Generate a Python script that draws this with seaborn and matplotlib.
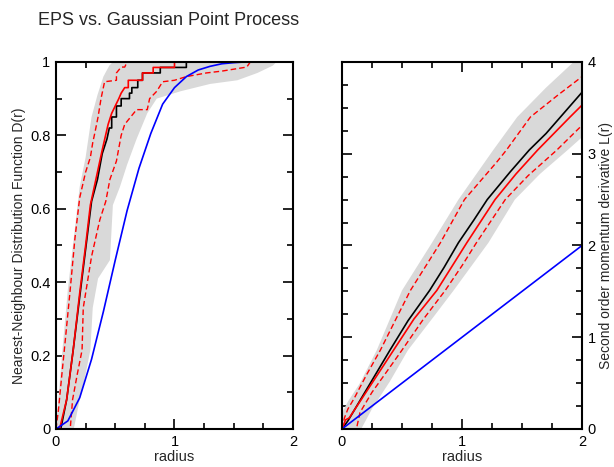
import numpy as np
import matplotlib
matplotlib.use("Agg")
import matplotlib.pyplot as plt
import seaborn as sns
from matplotlib.ticker import MultipleLocator

# ---- left panel: nearest-neighbour distribution D(r) ----
nn_r_gauss = [0, 0.1, 0.2, 0.3, 0.4, 0.5, 0.6, 0.7, 0.8, 0.9, 1.0, 1.1, 1.2, 1.3, 1.4, 1.5, 1.6, 2.0]
nn_d_gauss = [0, 0.022, 0.085, 0.19, 0.32, 0.46, 0.595, 0.71, 0.805, 0.885, 0.93, 0.96, 0.978, 0.988, 0.995, 0.998, 1.0, 1.0]

nn_r_obs = [0, 0.04, 0.09, 0.145, 0.2, 0.25, 0.3, 0.35, 0.39, 0.43, 0.45, 0.47, 0.47, 0.51, 0.51, 0.55,
            0.55, 0.6, 0.62, 0.62, 0.64, 0.64, 0.69, 0.69, 0.73, 0.73, 0.88, 0.88, 1.1, 1.1, 2.0]
nn_d_obs = [0, 0, 0.08, 0.215, 0.36, 0.49, 0.62, 0.68, 0.75, 0.79, 0.82, 0.82, 0.85, 0.85, 0.88, 0.88,
            0.9, 0.9, 0.9, 0.915, 0.915, 0.93, 0.93, 0.95, 0.95, 0.97, 0.97, 0.985, 0.985, 1.0, 1.0]

nn_r_mean = [0, 0.03, 0.09, 0.145, 0.2, 0.25, 0.29, 0.35, 0.39, 0.44, 0.47, 0.5, 0.53, 0.55, 0.58,
             0.61, 0.61, 0.73, 0.73, 0.82, 0.82, 1.0, 1.0, 2.0]
nn_d_mean = [0, 0, 0.08, 0.215, 0.37, 0.5, 0.61, 0.7, 0.76, 0.83, 0.86, 0.88, 0.9, 0.915, 0.93,
             0.93, 0.95, 0.95, 0.97, 0.97, 0.985, 0.985, 1.0, 1.0]

nn_r_hi = [0, 0.02, 0.05, 0.076, 0.12, 0.16, 0.2, 0.25, 0.29, 0.31, 0.33, 0.355, 0.38, 0.41,
           0.51, 0.51, 0.55, 0.58, 0.6, 2.0]
nn_d_hi = [0, 0.05, 0.15, 0.234, 0.38, 0.52, 0.63, 0.7, 0.74, 0.78, 0.81, 0.85, 0.9, 0.946,
           0.95, 0.97, 0.986, 0.986, 1.0, 1.0]

nn_r_lo = [0, 0.12, 0.14, 0.18, 0.22, 0.23, 0.27, 0.3, 0.37, 0.42, 0.455, 0.51, 0.55, 0.58,
           0.68, 0.77, 0.79, 0.85, 0.9, 1.0, 1.1, 1.27, 1.4, 1.61, 1.64, 2.0]
nn_d_lo = [0, 0, 0.08, 0.15, 0.215, 0.33, 0.41, 0.47, 0.57, 0.62, 0.68, 0.73, 0.8, 0.83,
           0.87, 0.87, 0.9, 0.92, 0.946, 0.95, 0.96, 0.97, 0.975, 0.986, 1.0, 1.0]

nn_r_band_hi = [0, 0.02, 0.05, 0.1, 0.15, 0.2, 0.25, 0.3, 0.35, 0.4, 0.45, 0.48, 2.0]
nn_d_band_hi = [0, 0.08, 0.2, 0.38, 0.52, 0.66, 0.74, 0.85, 0.91, 0.96, 0.99, 1.0, 1.0]
nn_r_band_lo = [0, 0.15, 0.2, 0.25, 0.29, 0.31, 0.355, 0.455, 0.48, 0.54, 0.6, 0.68, 0.77,
                0.85, 1.05, 1.3, 1.53, 1.7, 1.83, 1.86, 2.0]
nn_d_band_lo = [0, 0, 0.08, 0.15, 0.215, 0.33, 0.41, 0.46, 0.61, 0.66, 0.72, 0.79, 0.86,
                0.9, 0.92, 0.94, 0.95, 0.97, 0.99, 1.0, 1.0]

# ---- right panel: L(r) ----
l_r_gauss = [0, 2.0]
l_v_gauss = [0, 2.0]

l_r_obs = [0, 0.05, 0.1, 0.2, 0.3, 0.4, 0.55, 0.73, 0.85, 0.97, 1.1, 1.21, 1.4, 1.56, 1.7, 1.82, 2.0]
l_v_obs = [0, 0.09, 0.2, 0.42, 0.64, 0.86, 1.18, 1.51, 1.76, 2.03, 2.28, 2.5, 2.8, 3.04, 3.22, 3.4, 3.67]

l_r_mean = [0, 0.03, 0.06, 0.1, 0.2, 0.3, 0.43, 0.6, 0.79, 0.92, 1.04, 1.16, 1.275, 1.45, 1.63, 1.78, 1.9, 2.0]
l_v_mean = [0, 0.1, 0.12, 0.2, 0.4, 0.6, 0.86, 1.2, 1.51, 1.78, 2.03, 2.27, 2.5, 2.78, 3.04, 3.24, 3.4, 3.53]

l_r_hi = [0, 0.02, 0.05, 0.1, 0.2, 0.32, 0.45, 0.57, 0.7, 0.82, 1.02, 1.29, 1.37, 1.57, 1.8, 2.0]
l_v_hi = [0, 0.12, 0.22, 0.33, 0.58, 0.86, 1.2, 1.51, 1.78, 2.03, 2.5, 2.91, 3.04, 3.4, 3.64, 3.84]

l_r_lo = [0, 0.12, 0.15, 0.25, 0.37, 0.5, 0.68, 0.86, 1.0, 1.12, 1.36, 1.55, 1.79, 2.0]
l_v_lo = [0, 0, 0.18, 0.4, 0.62, 0.86, 1.2, 1.51, 1.78, 2.03, 2.5, 2.76, 3.04, 3.31]

l_r_band_hi = [0, 0.01, 0.05, 0.15, 0.29, 0.5, 0.75, 0.97, 1.26, 1.46, 1.7, 1.93, 2.0]
l_v_band_hi = [0, 0.2, 0.3, 0.5, 0.86, 1.51, 2.03, 2.5, 3.04, 3.4, 3.72, 4.0, 4.0]
l_r_band_lo = [0, 0.16, 0.25, 0.4, 0.55, 0.75, 0.93, 1.22, 1.44, 1.65, 1.88, 2.0]
l_v_band_lo = [0, 0, 0.22, 0.52, 0.86, 1.2, 1.51, 2.03, 2.5, 2.78, 3.04, 3.18]

sns.set_theme(style="ticks")
plt.rcParams['font.family'] = ['Liberation Sans', 'DejaVu Sans']

fig = plt.figure(figsize=(6.14, 4.67), dpi=100)
ax1 = fig.add_axes([0.0912, 0.0814, 0.386, 0.786])
ax2 = fig.add_axes([0.557, 0.0814, 0.391, 0.786])

band_col = "#d9d9d9"
dash = (0, (4, 2.2))


def draw_panel(ax, band_r_hi, band_v_hi, band_r_lo, band_v_lo, r_hi, v_hi, r_lo, v_lo,
               r_mean, v_mean, r_obs, v_obs, r_g, v_g):
    ax.fill(list(band_r_hi) + list(band_r_lo[::-1]), list(band_v_hi) + list(band_v_lo[::-1]),
            color=band_col, lw=0, zorder=1)
    sns.lineplot(x=r_hi, y=v_hi, sort=False, estimator=None, ax=ax, color="red", lw=1.0, linestyle=dash)
    sns.lineplot(x=r_lo, y=v_lo, sort=False, estimator=None, ax=ax, color="red", lw=1.0, linestyle=dash)
    sns.lineplot(x=r_obs, y=v_obs, sort=False, estimator=None, ax=ax, color="black", lw=1.2)
    sns.lineplot(x=r_mean, y=v_mean, sort=False, estimator=None, ax=ax, color="red", lw=1.2)
    sns.lineplot(x=r_g, y=v_g, sort=False, estimator=None, ax=ax, color="blue", lw=1.2)


draw_panel(ax1, nn_r_band_hi, nn_d_band_hi, nn_r_band_lo, nn_d_band_lo, nn_r_hi, nn_d_hi,
           nn_r_lo, nn_d_lo, nn_r_mean, nn_d_mean, nn_r_obs, nn_d_obs, nn_r_gauss, nn_d_gauss)
draw_panel(ax2, l_r_band_hi, l_v_band_hi, l_r_band_lo, l_v_band_lo, l_r_hi, l_v_hi,
           l_r_lo, l_v_lo, l_r_mean, l_v_mean, l_r_obs, l_v_obs, l_r_gauss, l_v_gauss)

for ax in (ax1, ax2):
    ax.set_xlim(0, 2)
    ax.xaxis.set_major_locator(MultipleLocator(1))
    ax.xaxis.set_minor_locator(MultipleLocator(0.25))
    ax.tick_params(which="both", direction="in", top=True, right=True, left=True, bottom=True,
                   width=1.2, labelsize=10.5, pad=4, colors="black")
    ax.tick_params(which="major", length=7)
    ax.tick_params(which="minor", length=4)
    for s in ax.spines.values():
        s.set_linewidth(1.5)
        s.set_color("black")
    ax.set_xlabel("radius", fontsize=10.5, labelpad=1)

ax1.set_ylim(0, 1)
ax1.yaxis.set_minor_locator(MultipleLocator(0.1))
ax1.set_yticks([0, 0.2, 0.4, 0.6, 0.8, 1.0])
ax1.set_yticklabels(["0", "0.2", "0.4", "0.6", "0.8", "1"])
ax1.set_ylabel("Nearest-Neighbour Distribution Function D(r)", fontsize=10, labelpad=3)

ax2.set_ylim(0, 4)
ax2.yaxis.set_major_locator(MultipleLocator(1))
ax2.yaxis.set_minor_locator(MultipleLocator(0.25))
ax2.tick_params(axis="y", labelleft=False, labelright=True)
ax2.yaxis.set_label_position("right")
ax2.set_ylabel("Second order momentum derivative L(r)", fontsize=10, labelpad=2)

fig.text(0.062, 0.957, "EPS vs. Gaussian Point Process", fontsize=13, va="center", ha="left")

fig.savefig("out.png", dpi=100)
